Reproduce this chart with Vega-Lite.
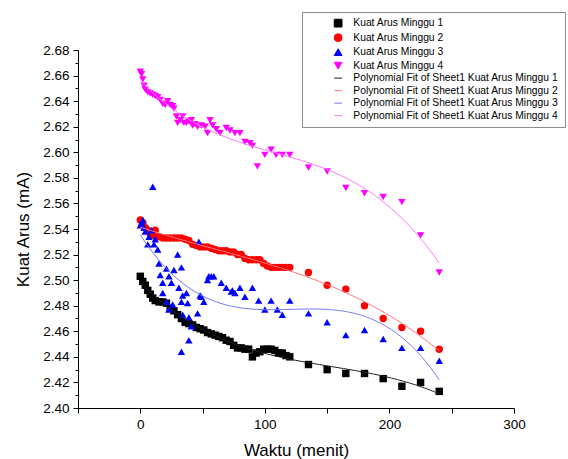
{
  "$schema": "https://vega.github.io/schema/vega-lite/v6.json",
  "width": 436,
  "height": 358,
  "autosize": {"type": "none"},
  "padding": {"left": 78, "top": 50, "right": 54, "bottom": 51},
  "background": "white",
  "config": {
    "view": {"stroke": null},
    "font": "Liberation Sans",
    "axis": {
      "grid": false,
      "domainColor": "black",
      "domainWidth": 1,
      "tickColor": "black",
      "tickWidth": 1,
      "labelColor": "black",
      "titleColor": "black",
      "labelFont": "Liberation Sans",
      "titleFont": "Liberation Sans",
      "labelFontSize": 13.5,
      "titleFontSize": 17,
      "titleFontWeight": "normal",
      "labelOverlap": false,
      "labelFlush": false
    },
    "axisY": {"labelOverlap": false},
    "axisQuantitative": {"labelOverlap": false}
  },
  "data": {
    "values": [
      {"t": 0, "i": 2.503, "s": "Kuat Arus Minggu 1"},
      {"t": 2, "i": 2.499, "s": "Kuat Arus Minggu 1"},
      {"t": 4, "i": 2.496, "s": "Kuat Arus Minggu 1"},
      {"t": 6, "i": 2.492, "s": "Kuat Arus Minggu 1"},
      {"t": 8, "i": 2.489, "s": "Kuat Arus Minggu 1"},
      {"t": 10, "i": 2.486, "s": "Kuat Arus Minggu 1"},
      {"t": 12, "i": 2.484, "s": "Kuat Arus Minggu 1"},
      {"t": 15, "i": 2.483, "s": "Kuat Arus Minggu 1"},
      {"t": 18, "i": 2.483, "s": "Kuat Arus Minggu 1"},
      {"t": 21, "i": 2.482, "s": "Kuat Arus Minggu 1"},
      {"t": 24, "i": 2.478, "s": "Kuat Arus Minggu 1"},
      {"t": 27, "i": 2.476, "s": "Kuat Arus Minggu 1"},
      {"t": 30, "i": 2.473, "s": "Kuat Arus Minggu 1"},
      {"t": 33, "i": 2.470, "s": "Kuat Arus Minggu 1"},
      {"t": 36, "i": 2.467, "s": "Kuat Arus Minggu 1"},
      {"t": 39, "i": 2.466, "s": "Kuat Arus Minggu 1"},
      {"t": 42, "i": 2.465, "s": "Kuat Arus Minggu 1"},
      {"t": 45, "i": 2.463, "s": "Kuat Arus Minggu 1"},
      {"t": 48, "i": 2.462, "s": "Kuat Arus Minggu 1"},
      {"t": 51, "i": 2.461, "s": "Kuat Arus Minggu 1"},
      {"t": 54, "i": 2.459, "s": "Kuat Arus Minggu 1"},
      {"t": 57, "i": 2.458, "s": "Kuat Arus Minggu 1"},
      {"t": 60, "i": 2.457, "s": "Kuat Arus Minggu 1"},
      {"t": 63, "i": 2.456, "s": "Kuat Arus Minggu 1"},
      {"t": 66, "i": 2.455, "s": "Kuat Arus Minggu 1"},
      {"t": 69, "i": 2.453, "s": "Kuat Arus Minggu 1"},
      {"t": 72, "i": 2.452, "s": "Kuat Arus Minggu 1"},
      {"t": 75, "i": 2.449, "s": "Kuat Arus Minggu 1"},
      {"t": 78, "i": 2.447, "s": "Kuat Arus Minggu 1"},
      {"t": 81, "i": 2.447, "s": "Kuat Arus Minggu 1"},
      {"t": 84, "i": 2.446, "s": "Kuat Arus Minggu 1"},
      {"t": 87, "i": 2.446, "s": "Kuat Arus Minggu 1"},
      {"t": 90, "i": 2.440, "s": "Kuat Arus Minggu 1"},
      {"t": 93, "i": 2.443, "s": "Kuat Arus Minggu 1"},
      {"t": 96, "i": 2.444, "s": "Kuat Arus Minggu 1"},
      {"t": 99, "i": 2.446, "s": "Kuat Arus Minggu 1"},
      {"t": 102, "i": 2.446, "s": "Kuat Arus Minggu 1"},
      {"t": 105, "i": 2.446, "s": "Kuat Arus Minggu 1"},
      {"t": 108, "i": 2.445, "s": "Kuat Arus Minggu 1"},
      {"t": 111, "i": 2.443, "s": "Kuat Arus Minggu 1"},
      {"t": 114, "i": 2.443, "s": "Kuat Arus Minggu 1"},
      {"t": 117, "i": 2.441, "s": "Kuat Arus Minggu 1"},
      {"t": 120, "i": 2.440, "s": "Kuat Arus Minggu 1"},
      {"t": 135, "i": 2.434, "s": "Kuat Arus Minggu 1"},
      {"t": 150, "i": 2.430, "s": "Kuat Arus Minggu 1"},
      {"t": 165, "i": 2.427, "s": "Kuat Arus Minggu 1"},
      {"t": 180, "i": 2.427, "s": "Kuat Arus Minggu 1"},
      {"t": 195, "i": 2.423, "s": "Kuat Arus Minggu 1"},
      {"t": 210, "i": 2.417, "s": "Kuat Arus Minggu 1"},
      {"t": 225, "i": 2.420, "s": "Kuat Arus Minggu 1"},
      {"t": 240, "i": 2.413, "s": "Kuat Arus Minggu 1"},

      {"t": 0, "i": 2.547, "s": "Kuat Arus Minggu 2"},
      {"t": 2, "i": 2.545, "s": "Kuat Arus Minggu 2"},
      {"t": 4, "i": 2.541, "s": "Kuat Arus Minggu 2"},
      {"t": 6, "i": 2.539, "s": "Kuat Arus Minggu 2"},
      {"t": 8, "i": 2.536, "s": "Kuat Arus Minggu 2"},
      {"t": 10, "i": 2.535, "s": "Kuat Arus Minggu 2"},
      {"t": 12, "i": 2.539, "s": "Kuat Arus Minggu 2"},
      {"t": 15, "i": 2.534, "s": "Kuat Arus Minggu 2"},
      {"t": 18, "i": 2.533, "s": "Kuat Arus Minggu 2"},
      {"t": 21, "i": 2.533, "s": "Kuat Arus Minggu 2"},
      {"t": 24, "i": 2.533, "s": "Kuat Arus Minggu 2"},
      {"t": 27, "i": 2.533, "s": "Kuat Arus Minggu 2"},
      {"t": 30, "i": 2.533, "s": "Kuat Arus Minggu 2"},
      {"t": 33, "i": 2.533, "s": "Kuat Arus Minggu 2"},
      {"t": 36, "i": 2.532, "s": "Kuat Arus Minggu 2"},
      {"t": 39, "i": 2.531, "s": "Kuat Arus Minggu 2"},
      {"t": 42, "i": 2.528, "s": "Kuat Arus Minggu 2"},
      {"t": 45, "i": 2.527, "s": "Kuat Arus Minggu 2"},
      {"t": 48, "i": 2.526, "s": "Kuat Arus Minggu 2"},
      {"t": 51, "i": 2.526, "s": "Kuat Arus Minggu 2"},
      {"t": 54, "i": 2.526, "s": "Kuat Arus Minggu 2"},
      {"t": 57, "i": 2.525, "s": "Kuat Arus Minggu 2"},
      {"t": 60, "i": 2.524, "s": "Kuat Arus Minggu 2"},
      {"t": 63, "i": 2.523, "s": "Kuat Arus Minggu 2"},
      {"t": 66, "i": 2.523, "s": "Kuat Arus Minggu 2"},
      {"t": 69, "i": 2.523, "s": "Kuat Arus Minggu 2"},
      {"t": 72, "i": 2.522, "s": "Kuat Arus Minggu 2"},
      {"t": 75, "i": 2.522, "s": "Kuat Arus Minggu 2"},
      {"t": 78, "i": 2.520, "s": "Kuat Arus Minggu 2"},
      {"t": 81, "i": 2.520, "s": "Kuat Arus Minggu 2"},
      {"t": 84, "i": 2.517, "s": "Kuat Arus Minggu 2"},
      {"t": 87, "i": 2.516, "s": "Kuat Arus Minggu 2"},
      {"t": 90, "i": 2.516, "s": "Kuat Arus Minggu 2"},
      {"t": 93, "i": 2.516, "s": "Kuat Arus Minggu 2"},
      {"t": 96, "i": 2.516, "s": "Kuat Arus Minggu 2"},
      {"t": 99, "i": 2.513, "s": "Kuat Arus Minggu 2"},
      {"t": 102, "i": 2.511, "s": "Kuat Arus Minggu 2"},
      {"t": 105, "i": 2.510, "s": "Kuat Arus Minggu 2"},
      {"t": 108, "i": 2.510, "s": "Kuat Arus Minggu 2"},
      {"t": 111, "i": 2.510, "s": "Kuat Arus Minggu 2"},
      {"t": 114, "i": 2.510, "s": "Kuat Arus Minggu 2"},
      {"t": 117, "i": 2.510, "s": "Kuat Arus Minggu 2"},
      {"t": 120, "i": 2.510, "s": "Kuat Arus Minggu 2"},
      {"t": 135, "i": 2.506, "s": "Kuat Arus Minggu 2"},
      {"t": 150, "i": 2.496, "s": "Kuat Arus Minggu 2"},
      {"t": 165, "i": 2.493, "s": "Kuat Arus Minggu 2"},
      {"t": 180, "i": 2.480, "s": "Kuat Arus Minggu 2"},
      {"t": 195, "i": 2.470, "s": "Kuat Arus Minggu 2"},
      {"t": 210, "i": 2.463, "s": "Kuat Arus Minggu 2"},
      {"t": 225, "i": 2.460, "s": "Kuat Arus Minggu 2"},
      {"t": 240, "i": 2.446, "s": "Kuat Arus Minggu 2"},

      {"t": 0, "i": 2.543, "s": "Kuat Arus Minggu 3"},
      {"t": 1, "i": 2.545, "s": "Kuat Arus Minggu 3"},
      {"t": 2, "i": 2.547, "s": "Kuat Arus Minggu 3"},
      {"t": 3, "i": 2.541, "s": "Kuat Arus Minggu 3"},
      {"t": 4, "i": 2.538, "s": "Kuat Arus Minggu 3"},
      {"t": 6, "i": 2.528, "s": "Kuat Arus Minggu 3"},
      {"t": 7, "i": 2.534, "s": "Kuat Arus Minggu 3"},
      {"t": 9, "i": 2.539, "s": "Kuat Arus Minggu 3"},
      {"t": 10, "i": 2.573, "s": "Kuat Arus Minggu 3"},
      {"t": 11, "i": 2.528, "s": "Kuat Arus Minggu 3"},
      {"t": 12, "i": 2.532, "s": "Kuat Arus Minggu 3"},
      {"t": 14, "i": 2.524, "s": "Kuat Arus Minggu 3"},
      {"t": 15, "i": 2.513, "s": "Kuat Arus Minggu 3"},
      {"t": 16, "i": 2.504, "s": "Kuat Arus Minggu 3"},
      {"t": 18, "i": 2.498, "s": "Kuat Arus Minggu 3"},
      {"t": 18, "i": 2.490, "s": "Kuat Arus Minggu 3"},
      {"t": 21, "i": 2.509, "s": "Kuat Arus Minggu 3"},
      {"t": 21, "i": 2.483, "s": "Kuat Arus Minggu 3"},
      {"t": 23, "i": 2.503, "s": "Kuat Arus Minggu 3"},
      {"t": 23, "i": 2.477, "s": "Kuat Arus Minggu 3"},
      {"t": 25, "i": 2.498, "s": "Kuat Arus Minggu 3"},
      {"t": 26, "i": 2.481, "s": "Kuat Arus Minggu 3"},
      {"t": 27, "i": 2.508, "s": "Kuat Arus Minggu 3"},
      {"t": 30, "i": 2.520, "s": "Kuat Arus Minggu 3"},
      {"t": 31, "i": 2.494, "s": "Kuat Arus Minggu 3"},
      {"t": 33, "i": 2.510, "s": "Kuat Arus Minggu 3"},
      {"t": 33, "i": 2.483, "s": "Kuat Arus Minggu 3"},
      {"t": 33, "i": 2.444, "s": "Kuat Arus Minggu 3"},
      {"t": 34, "i": 2.488, "s": "Kuat Arus Minggu 3"},
      {"t": 34, "i": 2.473, "s": "Kuat Arus Minggu 3"},
      {"t": 37, "i": 2.490, "s": "Kuat Arus Minggu 3"},
      {"t": 38, "i": 2.482, "s": "Kuat Arus Minggu 3"},
      {"t": 39, "i": 2.471, "s": "Kuat Arus Minggu 3"},
      {"t": 39, "i": 2.453, "s": "Kuat Arus Minggu 3"},
      {"t": 41, "i": 2.464, "s": "Kuat Arus Minggu 3"},
      {"t": 46, "i": 2.474, "s": "Kuat Arus Minggu 3"},
      {"t": 47, "i": 2.530, "s": "Kuat Arus Minggu 3"},
      {"t": 48, "i": 2.488, "s": "Kuat Arus Minggu 3"},
      {"t": 49, "i": 2.487, "s": "Kuat Arus Minggu 3"},
      {"t": 51, "i": 2.483, "s": "Kuat Arus Minggu 3"},
      {"t": 54, "i": 2.500, "s": "Kuat Arus Minggu 3"},
      {"t": 55, "i": 2.503, "s": "Kuat Arus Minggu 3"},
      {"t": 57, "i": 2.503, "s": "Kuat Arus Minggu 3"},
      {"t": 59, "i": 2.503, "s": "Kuat Arus Minggu 3"},
      {"t": 65, "i": 2.498, "s": "Kuat Arus Minggu 3"},
      {"t": 69, "i": 2.494, "s": "Kuat Arus Minggu 3"},
      {"t": 73, "i": 2.491, "s": "Kuat Arus Minggu 3"},
      {"t": 74, "i": 2.492, "s": "Kuat Arus Minggu 3"},
      {"t": 76, "i": 2.490, "s": "Kuat Arus Minggu 3"},
      {"t": 80, "i": 2.494, "s": "Kuat Arus Minggu 3"},
      {"t": 84, "i": 2.487, "s": "Kuat Arus Minggu 3"},
      {"t": 90, "i": 2.494, "s": "Kuat Arus Minggu 3"},
      {"t": 95, "i": 2.484, "s": "Kuat Arus Minggu 3"},
      {"t": 100, "i": 2.477, "s": "Kuat Arus Minggu 3"},
      {"t": 105, "i": 2.484, "s": "Kuat Arus Minggu 3"},
      {"t": 110, "i": 2.477, "s": "Kuat Arus Minggu 3"},
      {"t": 114, "i": 2.473, "s": "Kuat Arus Minggu 3"},
      {"t": 120, "i": 2.484, "s": "Kuat Arus Minggu 3"},
      {"t": 135, "i": 2.474, "s": "Kuat Arus Minggu 3"},
      {"t": 150, "i": 2.467, "s": "Kuat Arus Minggu 3"},
      {"t": 165, "i": 2.457, "s": "Kuat Arus Minggu 3"},
      {"t": 180, "i": 2.461, "s": "Kuat Arus Minggu 3"},
      {"t": 195, "i": 2.454, "s": "Kuat Arus Minggu 3"},
      {"t": 210, "i": 2.447, "s": "Kuat Arus Minggu 3"},
      {"t": 225, "i": 2.447, "s": "Kuat Arus Minggu 3"},
      {"t": 240, "i": 2.437, "s": "Kuat Arus Minggu 3"},

      {"t": 0, "i": 2.663, "s": "Kuat Arus Minggu 4"},
      {"t": 1, "i": 2.661, "s": "Kuat Arus Minggu 4"},
      {"t": 2, "i": 2.657, "s": "Kuat Arus Minggu 4"},
      {"t": 3, "i": 2.652, "s": "Kuat Arus Minggu 4"},
      {"t": 4, "i": 2.649, "s": "Kuat Arus Minggu 4"},
      {"t": 6, "i": 2.647, "s": "Kuat Arus Minggu 4"},
      {"t": 8, "i": 2.646, "s": "Kuat Arus Minggu 4"},
      {"t": 10, "i": 2.645, "s": "Kuat Arus Minggu 4"},
      {"t": 12, "i": 2.644, "s": "Kuat Arus Minggu 4"},
      {"t": 14, "i": 2.643, "s": "Kuat Arus Minggu 4"},
      {"t": 16, "i": 2.641, "s": "Kuat Arus Minggu 4"},
      {"t": 18, "i": 2.638, "s": "Kuat Arus Minggu 4"},
      {"t": 20, "i": 2.637, "s": "Kuat Arus Minggu 4"},
      {"t": 22, "i": 2.640, "s": "Kuat Arus Minggu 4"},
      {"t": 24, "i": 2.637, "s": "Kuat Arus Minggu 4"},
      {"t": 26, "i": 2.636, "s": "Kuat Arus Minggu 4"},
      {"t": 27, "i": 2.634, "s": "Kuat Arus Minggu 4"},
      {"t": 29, "i": 2.628, "s": "Kuat Arus Minggu 4"},
      {"t": 30, "i": 2.623, "s": "Kuat Arus Minggu 4"},
      {"t": 32, "i": 2.625, "s": "Kuat Arus Minggu 4"},
      {"t": 34, "i": 2.628, "s": "Kuat Arus Minggu 4"},
      {"t": 35, "i": 2.623, "s": "Kuat Arus Minggu 4"},
      {"t": 37, "i": 2.623, "s": "Kuat Arus Minggu 4"},
      {"t": 39, "i": 2.624, "s": "Kuat Arus Minggu 4"},
      {"t": 41, "i": 2.625, "s": "Kuat Arus Minggu 4"},
      {"t": 42, "i": 2.621, "s": "Kuat Arus Minggu 4"},
      {"t": 44, "i": 2.622, "s": "Kuat Arus Minggu 4"},
      {"t": 46, "i": 2.620, "s": "Kuat Arus Minggu 4"},
      {"t": 49, "i": 2.621, "s": "Kuat Arus Minggu 4"},
      {"t": 52, "i": 2.620, "s": "Kuat Arus Minggu 4"},
      {"t": 54, "i": 2.615, "s": "Kuat Arus Minggu 4"},
      {"t": 56, "i": 2.625, "s": "Kuat Arus Minggu 4"},
      {"t": 58, "i": 2.621, "s": "Kuat Arus Minggu 4"},
      {"t": 61, "i": 2.618, "s": "Kuat Arus Minggu 4"},
      {"t": 64, "i": 2.615, "s": "Kuat Arus Minggu 4"},
      {"t": 69, "i": 2.619, "s": "Kuat Arus Minggu 4"},
      {"t": 72, "i": 2.617, "s": "Kuat Arus Minggu 4"},
      {"t": 76, "i": 2.615, "s": "Kuat Arus Minggu 4"},
      {"t": 80, "i": 2.615, "s": "Kuat Arus Minggu 4"},
      {"t": 84, "i": 2.608, "s": "Kuat Arus Minggu 4"},
      {"t": 88, "i": 2.607, "s": "Kuat Arus Minggu 4"},
      {"t": 90, "i": 2.605, "s": "Kuat Arus Minggu 4"},
      {"t": 94, "i": 2.589, "s": "Kuat Arus Minggu 4"},
      {"t": 100, "i": 2.598, "s": "Kuat Arus Minggu 4"},
      {"t": 105, "i": 2.602, "s": "Kuat Arus Minggu 4"},
      {"t": 109, "i": 2.598, "s": "Kuat Arus Minggu 4"},
      {"t": 114, "i": 2.598, "s": "Kuat Arus Minggu 4"},
      {"t": 120, "i": 2.598, "s": "Kuat Arus Minggu 4"},
      {"t": 135, "i": 2.588, "s": "Kuat Arus Minggu 4"},
      {"t": 150, "i": 2.585, "s": "Kuat Arus Minggu 4"},
      {"t": 165, "i": 2.572, "s": "Kuat Arus Minggu 4"},
      {"t": 180, "i": 2.568, "s": "Kuat Arus Minggu 4"},
      {"t": 195, "i": 2.565, "s": "Kuat Arus Minggu 4"},
      {"t": 210, "i": 2.561, "s": "Kuat Arus Minggu 4"},
      {"t": 225, "i": 2.535, "s": "Kuat Arus Minggu 4"},
      {"t": 240, "i": 2.506, "s": "Kuat Arus Minggu 4"}
    ]
  },
  "encoding": {
    "x": {
      "field": "t", "type": "quantitative",
      "scale": {"domain": [-50, 300], "nice": false, "zero": false},
      "axis": {
        "title": "Waktu (menit)",
        "values": [-50, 0, 50, 100, 150, 200, 250, 300],
        "labelExpr": "datum.value % 100 === 0 ? datum.label : ''",
        "labelOverlap": false,
        "tickSize": 5,
        "labelPadding": 4,
        "titleY": 47,
        "titleBaseline": "alphabetic"
      }
    },
    "y": {
      "field": "i", "type": "quantitative",
      "scale": {"domain": [2.4, 2.68], "nice": false, "zero": false},
      "axis": {
        "title": "Kuat Arus (mA)",
        "values": [2.40, 2.41, 2.42, 2.43, 2.44, 2.45, 2.46, 2.47, 2.48, 2.49, 2.50, 2.51, 2.52, 2.53, 2.54, 2.55, 2.56, 2.57, 2.58, 2.59, 2.60, 2.61, 2.62, 2.63, 2.64, 2.65, 2.66, 2.67, 2.68],
        "labelExpr": "round(datum.value * 100) % 2 === 0 ? format(datum.value, '.2f') : ''",
        "labelOverlap": false,
        "tickSize": {"condition": {"test": "round(datum.value * 100) % 2 !== 0", "value": 3}, "value": 5},
        "labelPadding": 4,
        "titleX": -50,
        "titleY": 179,
        "titleAngle": -90,
        "titleAlign": "center",
        "titleBaseline": "alphabetic"
      }
    }
  },
  "layer": [
    {
      "mark": {"type": "point", "filled": true, "size": 55, "opacity": 1, "strokeWidth": 0},
      "encoding": {
        "color": {
          "field": "s", "type": "nominal",
          "scale": {
            "domain": ["Kuat Arus Minggu 1", "Kuat Arus Minggu 2", "Kuat Arus Minggu 3", "Kuat Arus Minggu 4", "Polynomial Fit of Sheet1 Kuat Arus Minggu 1", "Polynomial Fit of Sheet1 Kuat Arus Minggu 2", "Polynomial Fit of Sheet1 Kuat Arus Minggu 3", "Polynomial Fit of Sheet1 Kuat Arus Minggu 4"],
            "range": ["#000000", "#ff0000", "#0000ff", "#ff00ff", "#222222", "#ff7777", "#7777ff", "#ff77ff"]
          },
          "legend": {
            "title": null,
            "orient": "none",
            "legendX": 224,
            "legendY": -38,
            "strokeColor": "#8c8c8c",
            "padding": 6,
            "labelFontSize": 10.3,
            "labelFont": "Liberation Sans",
            "labelColor": "black",
            "labelLimit": 400,
            "symbolSize": 60,
            "symbolStrokeWidth": 1,
            "rowPadding": 1.5,
            "symbolOffset": 25,
            "labelOffset": 10,
            "encode": {
              "symbols": {
                "update": {
                  "fill": {"scale": "color", "field": "value"},
                  "stroke": {"scale": "color", "field": "value"},
                  "strokeWidth": {"value": 1},
                  "opacity": {"value": 1},
                  "size": {"signal": "indexof(datum.value, 'Poly') >= 0 ? 530 : 55"}
                }
              }
            }
          }
        },
        "shape": {
          "field": "s", "type": "nominal",
          "scale": {
            "domain": ["Kuat Arus Minggu 1", "Kuat Arus Minggu 2", "Kuat Arus Minggu 3", "Kuat Arus Minggu 4", "Polynomial Fit of Sheet1 Kuat Arus Minggu 1", "Polynomial Fit of Sheet1 Kuat Arus Minggu 2", "Polynomial Fit of Sheet1 Kuat Arus Minggu 3", "Polynomial Fit of Sheet1 Kuat Arus Minggu 4"],
            "range": ["square", "circle", "triangle-up", "triangle-down", "stroke", "stroke", "stroke", "stroke"]
          },
          "legend": {
            "title": null,
            "orient": "none",
            "legendX": 224,
            "legendY": -38,
            "strokeColor": "#8c8c8c",
            "padding": 6,
            "labelFontSize": 10.3,
            "labelFont": "Liberation Sans",
            "labelColor": "black",
            "labelLimit": 400,
            "symbolSize": 60,
            "symbolStrokeWidth": 1,
            "rowPadding": 1.5,
            "symbolOffset": 25,
            "labelOffset": 10,
            "encode": {
              "symbols": {
                "update": {
                  "fill": {"scale": "color", "field": "value"},
                  "stroke": {"scale": "color", "field": "value"},
                  "strokeWidth": {"value": 1},
                  "opacity": {"value": 1},
                  "size": {"signal": "indexof(datum.value, 'Poly') >= 0 ? 530 : 55"}
                }
              }
            }
          }
        }
      }
    },
    {
      "transform": [
        {"regression": "i", "on": "t", "groupby": ["s"], "method": "poly", "order": 3},
        {"lookup": "s", "from": {"data": {"values": [
          {"s": "Kuat Arus Minggu 1", "f": "Polynomial Fit of Sheet1 Kuat Arus Minggu 1"},
          {"s": "Kuat Arus Minggu 2", "f": "Polynomial Fit of Sheet1 Kuat Arus Minggu 2"},
          {"s": "Kuat Arus Minggu 3", "f": "Polynomial Fit of Sheet1 Kuat Arus Minggu 3"},
          {"s": "Kuat Arus Minggu 4", "f": "Polynomial Fit of Sheet1 Kuat Arus Minggu 4"}
        ]}, "key": "s", "fields": ["f"]}}
      ],
      "mark": {"type": "line", "strokeWidth": 1},
      "encoding": {
        "color": {"field": "f", "type": "nominal"}
      }
    }
  ]
}
